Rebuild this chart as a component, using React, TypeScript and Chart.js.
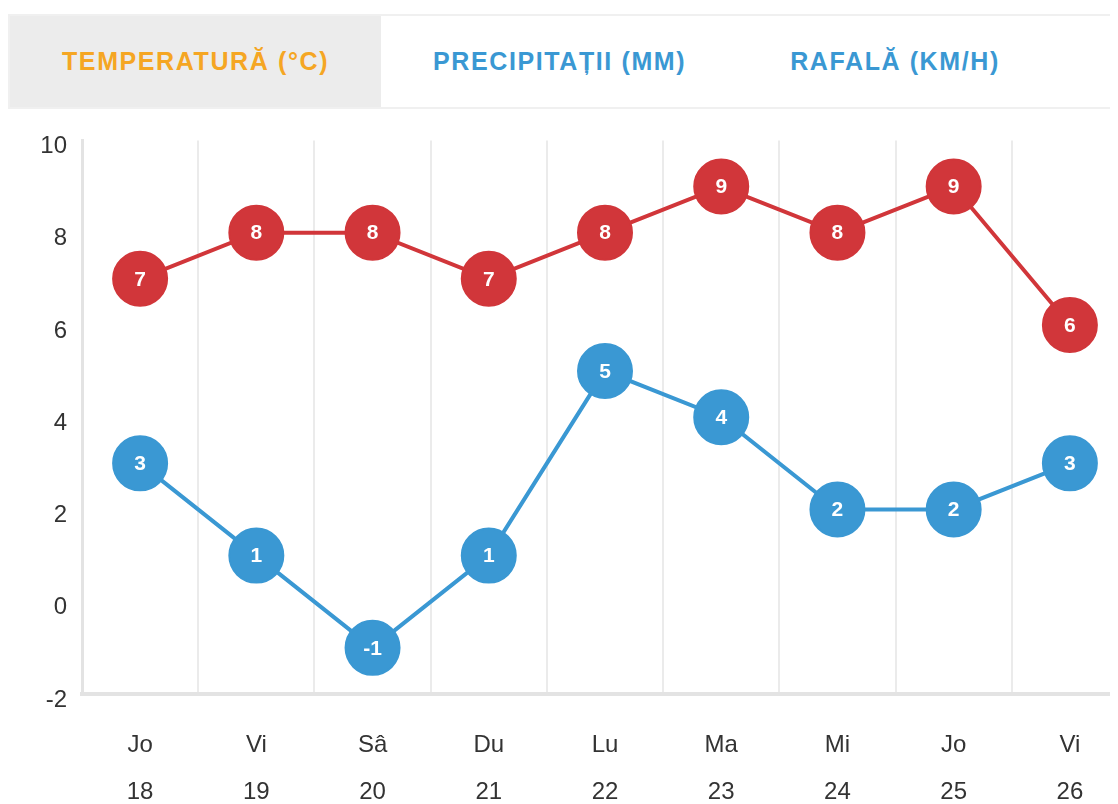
import React, { useEffect, useRef } from "react";
import { Chart, registerables } from "chart.js";

Chart.register(...registerables);

const dayNames = ["Jo", "Vi", "Sâ", "Du", "Lu", "Ma", "Mi", "Jo", "Vi"];
const dayNumbers = ["18", "19", "20", "21", "22", "23", "24", "25", "26"];
const maxTemps = [7, 8, 8, 7, 8, 9, 8, 9, 6];
const minTemps = [3, 1, -1, 1, 5, 4, 2, 2, 3];
const yTicks = [-2, 0, 2, 4, 6, 8, 10];
const tabs = ["TEMPERATURĂ (°C)", "PRECIPITAȚII (MM)", "RAFALĂ (KM/H)"];

const RED = "#d1363a";
const BLUE = "#3a98d3";
const FONT = "Arial, 'Liberation Sans', sans-serif";

const valueLabels = {
  id: "valueLabels",
  afterDatasetsDraw(chart: any) {
    const ctx = chart.ctx;
    ctx.save();
    ctx.fillStyle = "#ffffff";
    ctx.font = `bold 21px ${FONT}`;
    ctx.textAlign = "center";
    ctx.textBaseline = "middle";
    chart.data.datasets.forEach((ds: any, i: number) => {
      const meta = chart.getDatasetMeta(i);
      meta.data.forEach((el: any, j: number) => {
        ctx.fillText(String(ds.data[j]), el.x, el.y + 1);
      });
    });
    ctx.restore();
  },
};

export default function App() {
  const ref = useRef<HTMLCanvasElement>(null);
  useEffect(() => {
    if (!ref.current) return;
    const chart = new Chart(ref.current, {
      type: "line",
      data: {
        labels: dayNames.map((d, i) => [d, dayNumbers[i]]),
        datasets: [
          {
            data: maxTemps,
            borderColor: RED,
            backgroundColor: RED,
            pointBackgroundColor: RED,
            pointBorderColor: RED,
            borderWidth: 4,
            pointRadius: 27,
            pointBorderWidth: 2,
            tension: 0,
          },
          {
            data: minTemps,
            borderColor: BLUE,
            backgroundColor: BLUE,
            pointBackgroundColor: BLUE,
            pointBorderColor: BLUE,
            borderWidth: 4,
            pointRadius: 27,
            pointBorderWidth: 2,
            tension: 0,
          },
        ],
      },
      options: {
        animation: false,
        responsive: false,
        maintainAspectRatio: false,
        layout: { padding: { top: 29, right: 0, left: 0, bottom: 0 } },
        plugins: { legend: { display: false }, tooltip: { enabled: false } },
        scales: {
          x: {
            offset: true,
            grid: { offset: true, color: "#ebebeb", lineWidth: 2, drawTicks: false },
            border: { display: true, color: "#e3e3e3", width: 4 },
            ticks: {
              color: "#333",
              font: { family: FONT, size: 24, lineHeight: 1.96 },
              padding: 28,
              maxRotation: 0,
            },
            afterFit: (s: any) => {
              s.height = 117;
            },
          },
          y: {
            min: -2,
            max: 10,
            afterBuildTicks: (s: any) => {
              s.ticks = yTicks.map((v) => ({ value: v }));
            },
            grid: { display: false, drawTicks: false },
            border: { display: true, color: "#e3e3e3", width: 3 },
            ticks: {
              color: "#333",
              font: { family: FONT, size: 24 },
              padding: 15,
              labelOffset: 6,
            },
            afterFit: (s: any) => {
              s.width = 74;
            },
          },
        },
      },
      plugins: [valueLabels],
    });
    return () => chart.destroy();
  }, []);

  return (
    <div style={{ width: 1110, overflow: "hidden", position: "relative", height: 796 }}>
      <div
        style={{
          marginTop: 6,
          width: 1140,
          height: 95,
          border: "2px solid #f0f0f0",
          borderRight: "none",
          display: "flex",
          boxSizing: "border-box",
          background: "#fff",
        }}
      >
        {tabs.map((t, i) => (
          <div
            key={t}
            style={{
              padding: "0 52px",
              display: "flex",
              alignItems: "center",
              background: i === 0 ? "#ececec" : "#fff",
              color: i === 0 ? "#f5a623" : "#3a98d3",
              fontFamily: FONT,
              fontWeight: "bold",
              fontSize: 25,
              letterSpacing: "1.6px",
              whiteSpace: "nowrap",
            }}
          >
            {t}
          </div>
        ))}
      </div>
      <canvas
        ref={ref}
        width={1149}
        height={700}
        style={{ position: "absolute", left: 0, top: 103, display: "block" }}
      />
    </div>
  );
}
